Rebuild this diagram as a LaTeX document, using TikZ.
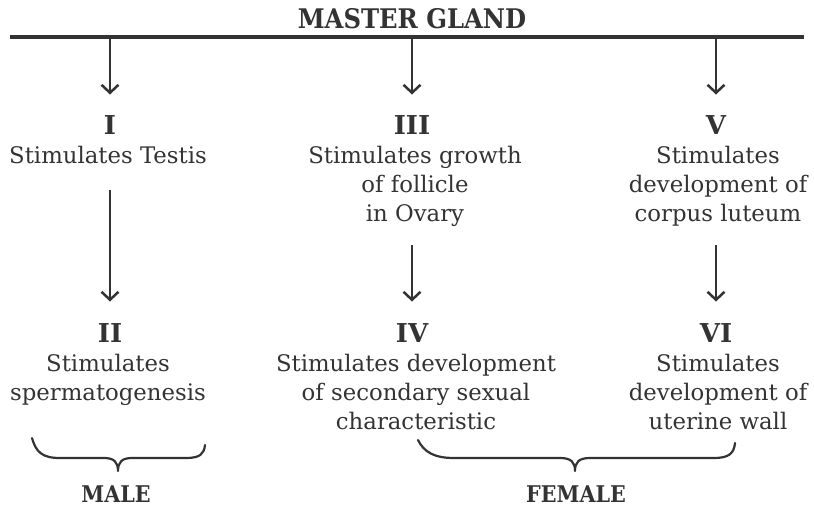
\documentclass[tikz,border=0pt]{standalone}
\usepackage{fontspec}
\setmainfont{DejaVu Serif}
\newfontfamily\headfont{DejaVu Serif Condensed}
\usetikzlibrary{arrows.meta}
\definecolor{ink}{HTML}{333333}
\begin{document}
\begin{tikzpicture}[x=1pt,y=-1pt,
  every node/.style={text=ink, inner sep=0pt, outer sep=0pt},
  numeral/.style={font=\fontsize{26}{26}\selectfont\bfseries},
  heading/.style={font=\headfont\fontsize{27}{27}\selectfont\bfseries},
  label/.style={font=\headfont\fontsize{23}{23}\selectfont\bfseries, text depth=0pt, anchor=base},
  body/.style={font=\fontsize{22.8}{29}\selectfont, align=center, anchor=base},
  arr/.style={draw=ink, line width=2.5pt, -{Straight Barb[length=8pt,width=17pt,line width=2.5pt]}},
  brace/.style={draw=ink, line width=2.2pt, line cap=round, line join=round}]
\useasboundingbox (0,0) rectangle (814,506);

% master gland bar
\node[heading] (mg) at (412,19) {MASTER GLAND};
\draw[draw=ink, line width=4.5pt] (10,37) coordinate (barL) -- (804,37) coordinate (barR);
\coordinate (b1) at (110,39);
\coordinate (b3) at (412,39);
\coordinate (b5) at (716,39);

% first row (base anchor sits on the last line of each block)
\node[numeral] (n1) at (110,125) {I};
\node[numeral] (n3) at (412,125) {III};
\node[numeral] (n5) at (716,125) {V};
\node[body] (t1) at (108,163) {Stimulates Testis};
\node[body] (t3) at (415,221) {Stimulates growth\\of follicle\\in Ovary};
\node[body] (t5) at (718,221) {Stimulates\\development of\\corpus luteum};

% second row
\node[numeral] (n2) at (110,333) {II};
\node[numeral] (n4) at (412,333) {IV};
\node[numeral] (n6) at (716,333) {VI};
\node[body] (t2) at (108,400) {Stimulates\\spermatogenesis};
\node[body] (t4) at (416,429) {Stimulates development\\of secondary sexual\\characteristic};
\node[body] (t6) at (718,429) {Stimulates\\development of\\uterine wall};

% arrows
\draw[arr] (b1) -- ([yshift=21pt]n1.north);
\draw[arr] (b3) -- ([yshift=21pt]n3.north);
\draw[arr] (b5) -- ([yshift=21pt]n5.north);
\coordinate (a1) at (110,190);
\coordinate (a3) at (412,245);
\coordinate (a5) at (716,245);
\draw[arr] (a1) -- ([yshift=22pt]n2.north);
\draw[arr] (a3) -- ([yshift=22pt]n4.north);
\draw[arr] (a5) -- ([yshift=22pt]n6.north);

% braces
\node[label] (male) at (116,502) {MALE};
\node[label] (female) at (576,502) {FEMALE};
\draw[brace] (32,438) .. controls (36,452) and (42,458) .. (60,458)
  -- (104,458) .. controls (114,458) and (118,462) .. (118,471)
  .. controls (118,462) and (122,458) .. (132,458)
  -- (186,458) .. controls (200,458) and (204,454) .. (205,445);
\draw[brace] (418,440) .. controls (424,452) and (434,458) .. (454,458)
  -- (560,458) .. controls (571,458) and (575,462) .. (575,471)
  .. controls (575,462) and (579,458) .. (590,458)
  -- (714,458) .. controls (728,458) and (734,454) .. (735,443);
\end{tikzpicture}
\end{document}
